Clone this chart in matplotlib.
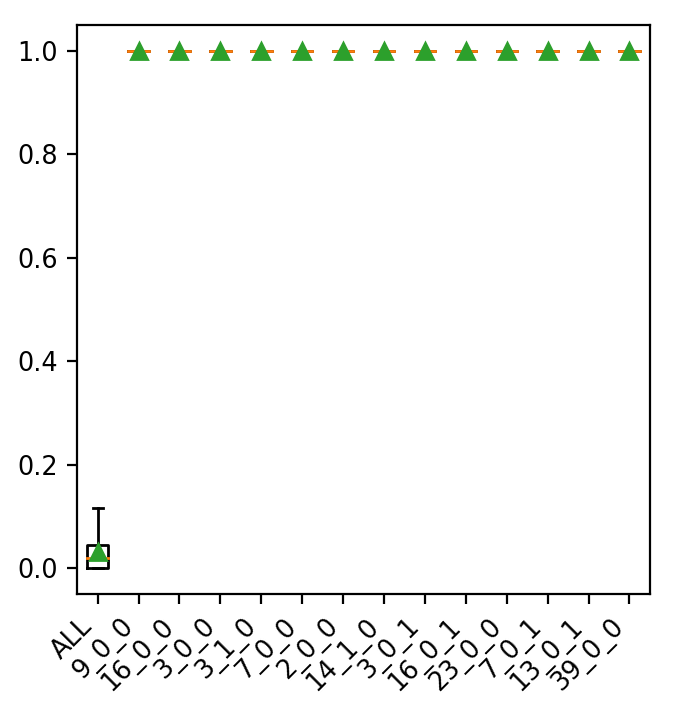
import matplotlib
matplotlib.use("Agg")
import matplotlib.pyplot as plt

labels = ["ALL", "9_0_0", "16_0_0", "3_0_0", "3_1_0", "7_0_0", "2_0_0",
          "14_1_0", "3_0_1", "16_0_1", "23_0_0", "7_0_1", "13_0_1", "39_0_0"]
whislo = [0.0] + [1.0] * 13
q1 = [0.0] + [1.0] * 13
med = [0.019] + [1.0] * 13
q3 = [0.045] + [1.0] * 13
whishi = [0.116] + [1.0] * 13
means = [0.032] + [1.0] * 13

stats = []
for i in range(len(labels)):
    stats.append({"label": labels[i], "whislo": whislo[i], "q1": q1[i], "med": med[i],
                  "q3": q3[i], "whishi": whishi[i], "mean": means[i], "fliers": []})

plt.rcParams["font.size"] = 9.2
fig = plt.figure(figsize=(677 / 200, 713 / 200), dpi=200)
ax = fig.add_axes([0.114, 0.167, 0.846, 0.798])
ax.bxp(stats, showmeans=True, medianprops={"solid_capstyle": "projecting"})
ax.set_xticks(range(1, len(labels) + 1))
ax.set_xticklabels(labels, rotation=45, ha="right")
ax.set_ylim(-0.05, 1.05)
fig.savefig("out.png", dpi=200)
